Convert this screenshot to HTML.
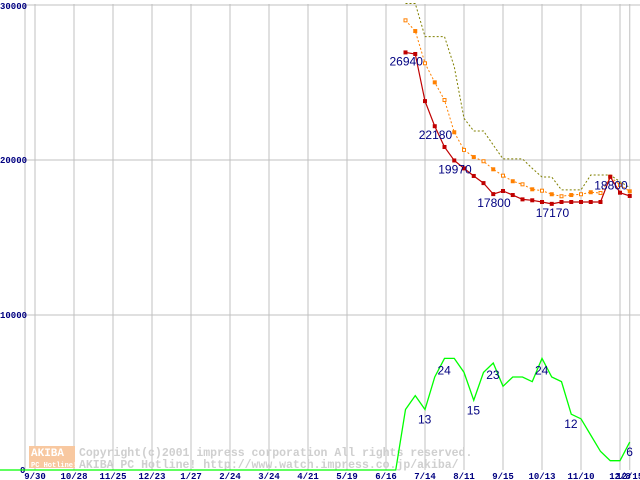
<!DOCTYPE html>
<html><head><meta charset="utf-8"><style>
body{margin:0;background:#fff;width:640px;height:480px;overflow:hidden}
svg{display:block}
.ax{font-family:"Liberation Mono",monospace;font-size:9px;font-weight:bold;fill:#000080}
.lb{font-family:"Liberation Sans",sans-serif;font-size:12px;fill:#000080}
.wm{font-family:"Liberation Mono",monospace;font-size:11.5px;font-weight:bold;fill:#cfcfcf}
</style></head><body>
<svg id="chart" width="640" height="480" xmlns="http://www.w3.org/2000/svg"></svg>
<script>
const xLabels=["9/30","10/28","11/25","12/23","1/27","2/24","3/24","4/21","5/19","6/16","7/14","8/11","9/15","10/13","11/10","12/8","12/15"];
const yTicks=[0,10000,20000,30000];
const startIdx=38;
const minPrice=[26940,26840,23800,22180,20840,19970,19460,18970,18510,17800,18000,17740,17460,17400,17290,17170,17290,17290,17290,17290,17290,18920,17890,17680];
const avgPrice=[29010,28320,26240,25010,23870,21790,20650,20190,19920,19400,18990,18630,18430,18110,18020,17790,17660,17740,17790,17920,17870,18920,18390,17980];
const maxPrice=[30100,30100,27960,27960,27960,26020,22690,21870,21870,20970,20070,20070,20070,19460,18900,18900,18070,18070,18070,19030,19030,19030,18600,18220];
const shopCount=[13,16,13,20,24,24,21,15,21,23,18,20,20,19,24,20,19,12,11,7.5,4,2,2,6];
const priceLabels=[[38,"26940"],[41,"22180"],[43,"19970"],[47,"17800"],[53,"17170"],[59,"18800"]];
const countLabels=[[40,"13"],[42,"24"],[45,"15"],[47,"23"],[52,"24"],[55,"12"],[61,"6"]];
const NS="http://www.w3.org/2000/svg";
const svg=document.getElementById('chart');
const X=i=>35+i*9.75;
const Y=v=>470-v*0.0155;
const CY=c=>Y(c*300);
function mk(t,a,p){const e=document.createElementNS(NS,t);for(const k in a)e.setAttribute(k,a[k]);(p||svg).appendChild(e);return e;}
const g=mk('g',{});


mk('line',{x1:25,y1:4,x2:25,y2:470,stroke:'#c0c0c0'},g);
xLabels.forEach((l,k)=>{const i=k<16?k*4:61;mk('line',{x1:X(i),y1:4,x2:X(i),y2:470,stroke:'#c0c0c0','stroke-width':1},g);});
yTicks.forEach(v=>{if(v>0)mk('line',{x1:25,y1:Y(v),x2:640,y2:Y(v),stroke:'#c0c0c0'},g);});
const w=mk('g',{});


mk('rect',{x:29,y:446,width:46,height:22,fill:'#f8c8a0'},w);
const t1=mk('text',{x:31,y:456,class:'wm',style:'fill:#fff;font-size:11px'},w);t1.textContent='AKIBA';
const t2=mk('text',{x:31,y:467,class:'wm',style:'fill:#fff;font-size:7px'},w);t2.textContent='PC Hotline!';
const t3=mk('text',{x:79,y:456,class:'wm'},w);t3.textContent='Copyright(c)2001 impress corporation All rights reserved.';
const t4=mk('text',{x:79,y:468,class:'wm'},w);t4.textContent='AKIBA PC Hotline!  http://www.watch.impress.co.jp/akiba/';
yTicks.forEach(v=>{const t=mk('text',{x:v?0:20,y:Y(v)+(v==30000?4:3),class:'ax'});t.textContent=String(v);

});
xLabels.forEach((l,k)=>{const i=k<16?k*4:61;const t=mk('text',{x:X(i),y:479,class:'ax','text-anchor':'middle'});t.textContent=l;

});
function pts(arr,f){return arr.map((v,k)=>X(startIdx+k)+','+f(v)).join(' ');}
let gl='0,'+CY(0)+' ';for(let i=0;i<startIdx;i++)gl+=X(i)+','+CY(0)+' ';
const green=mk('polyline',{points:gl+pts(shopCount,CY),fill:'none',stroke:'#00ff00','stroke-width':1.3});


const olive=mk('polyline',{points:pts(maxPrice,v=>Math.max(Y(v),3)),fill:'none',stroke:'#808000','stroke-dasharray':'2,2'});


const orange=mk('polyline',{points:pts(avgPrice,Y),fill:'none',stroke:'#ff8000','stroke-dasharray':'2,2'});


avgPrice.forEach((v,k)=>{const m=mk('rect',{x:X(startIdx+k)-1.5,y:Y(v)-1.5,width:3,height:3,fill:k%2?'#ff8000':'#fff',stroke:'#ff8000','stroke-width':1});

});
const red=mk('polyline',{points:pts(minPrice,Y),fill:'none',stroke:'#c00000','stroke-width':1.2});


minPrice.forEach((v,k)=>{const m=mk('rect',{x:X(startIdx+k)-2,y:Y(v)-2,width:4,height:4,fill:'#c00000'});

});
priceLabels.forEach(([i,s])=>{const v=minPrice[i-startIdx];const t=mk('text',{x:X(i)-16,y:Y(v)+13,class:'lb'});t.textContent=s;

});
countLabels.forEach(([i,s])=>{const c=shopCount[i-startIdx];const t=mk('text',{x:X(i)-(s.length*3.5),y:CY(c)+(c>22?16:14),class:'lb'});t.textContent=s;

});
</script>
</body></html>
